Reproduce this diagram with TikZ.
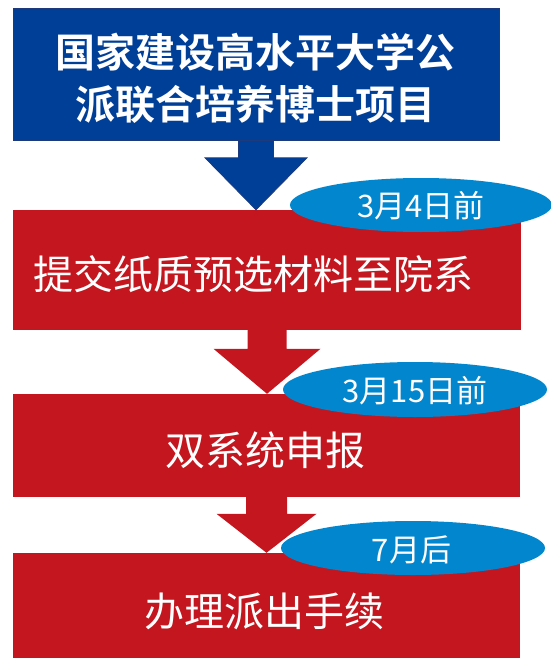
\documentclass[tikz,border=0pt]{standalone}
\usepackage{fontspec}
\newfontfamily\cjk{Noto Sans CJK SC}[BoldFont={Noto Sans CJK SC Bold}]
\usetikzlibrary{calc}
\definecolor{tblue}{RGB}{0,63,152}
\definecolor{tblueline}{RGB}{30,58,125}
\definecolor{tred}{RGB}{196,22,30}
\definecolor{tsky}{RGB}{2,135,207}
\tikzset{
  titlebox/.style={draw=tblueline, line width=1pt, fill=tblue, inner sep=0pt},
  stepbox/.style={fill=tred, inner sep=0pt},
  datebubble/.style={ellipse, fill=tsky, inner sep=0pt},
  titletext/.style={text=white, align=center, font=\cjk\bfseries\fontsize{40}{52}\selectfont},
  boxtext/.style={text=white, font=\cjk\fontsize{40}{48}\selectfont},
  datetext/.style={text=white, font=\cjk\fontsize{31}{36}\selectfont},
}
\usetikzlibrary{shapes.geometric}
% block arrow: #1 style, #2 from node, #3 to node, #4 shaft half width, #5 head half width, #6 head length
\newcommand\blockarrow[6]{%
  \path[#1] let \p1=(#2.south), \p2=(#3.north) in
    (\x1-#4pt,\y1) -- (\x1+#4pt,\y1) -- (\x1+#4pt,\y2+#6pt) -- (\x1+#5pt,\y2+#6pt)
    -- (\x1,\y2) -- (\x1-#5pt,\y2+#6pt) -- (\x1-#4pt,\y2+#6pt) -- cycle;}
\begin{document}
\begin{tikzpicture}[x=1pt,y=-1pt]
\useasboundingbox (0,0) rectangle (550,658);
% boxes
\node[titlebox, minimum width=486pt, minimum height=131pt] (top) at (256,74.5) {};
\node[stepbox, minimum width=508pt, minimum height=120pt] (s1) at (267,270) {};
\node[stepbox, minimum width=507pt, minimum height=103pt] (s2) at (266.5,445.5) {};
\node[stepbox, minimum width=507pt, minimum height=106pt] (s3) at (266.5,606) {};
% arrows
\blockarrow{fill=tblue, draw=tblueline, line width=0.8pt}{top}{s1}{17.5}{51}{52}
\blockarrow{fill=tred}{s1}{s2}{19.5}{53.5}{45}
\blockarrow{fill=tred}{s2}{s3}{20.5}{50}{39}
% texts
\node[titletext] (tt) at (255,78) {国家建设高水平大学公\\派联合培养博士项目};
\node[boxtext] (t1) at (253,274) {提交纸质预选材料至院系};
\node[boxtext] (t2) at (265,450) {双系统申报};
\node[boxtext] (t3) at (264,611) {办理派出手续};
% date bubbles
\node[datebubble, minimum width=262pt, minimum height=54pt] (e1) at (421,205) {};
\node[datebubble, minimum width=264pt, minimum height=55pt] (e2) at (415,389.5) {};
\node[datebubble, minimum width=264pt, minimum height=54pt] (e3) at (413,548) {};
\node[datetext] (d1) at (421,206) {3月4日前};
\node[datetext] (d2) at (415,391) {3月15日前};
\node[datetext] (d3) at (411.5,550) {7月后};
\end{tikzpicture}
\end{document}
